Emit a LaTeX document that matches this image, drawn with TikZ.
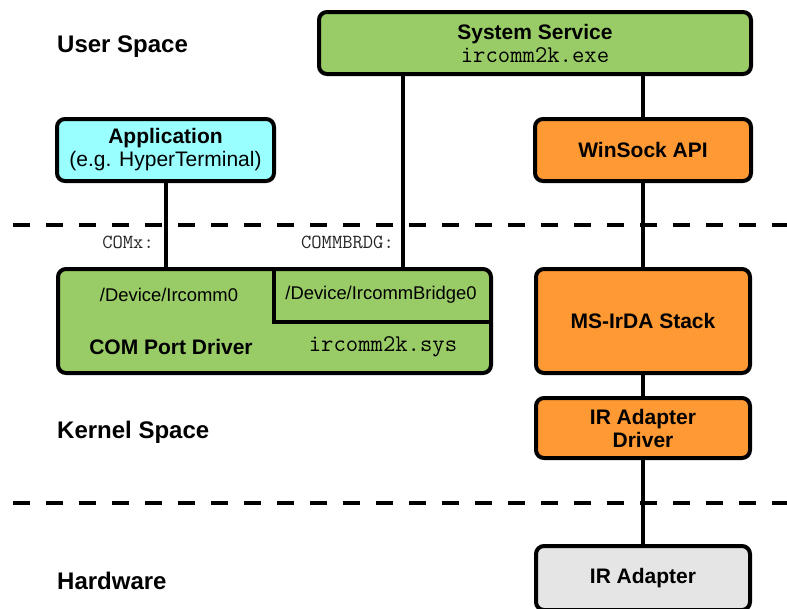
\documentclass[tikz,border=0pt]{standalone}
\usepackage{fontspec}
\setmainfont{Liberation Sans}
\definecolor{drvgreen}{HTML}{99CC66}
\definecolor{appcyan}{HTML}{99FFFF}
\definecolor{stackorange}{HTML}{FF9933}
\definecolor{hwgray}{HTML}{E5E5E5}
\definecolor{labelgray}{HTML}{262626}
\tikzset{
  block/.style={draw=black, line width=4pt, rounded corners=8pt, inner sep=0pt,
    align=center, font=\fontsize{21}{23}\selectfont\bfseries},
  layerlabel/.style={anchor=west, inner sep=0pt, font=\fontsize{24}{26}\selectfont\bfseries},
  wire/.style={line width=4pt},
  boundary/.style={line width=4pt, dash pattern=on 17pt off 16pt},
  devname/.style={inner sep=0pt, font=\fontsize{18.4}{20}\selectfont},
  portname/.style={anchor=east, inner sep=0pt, text=labelgray, font=\fontsize{20}{22}\ttfamily},
}
\begin{document}
\begin{tikzpicture}[x=1pt, y=-1pt]
  \useasboundingbox (0,0) rectangle (787,608);
  \clip (0,0) rectangle (787,608);

  % layer boundaries
  \draw[boundary] (13,225) coordinate (b1l) -- (787,225) coordinate (b1r);
  \draw[boundary] (13,503) coordinate (b2l) -- (787,503) coordinate (b2r);

  % layer names
  \node[layerlabel] (user) at (57,46.5) {User Space};
  \node[layerlabel] (kernel) at (57,432) {Kernel Space};
  \node[layerlabel] (hw) at (57,580.5) {Hardware};

  % user-mode components
  \node[block, fill=drvgreen, minimum width=432pt, minimum height=62pt] (svc) at (535,43)
    {System Service\\{\mdseries\fontsize{24}{24}\ttfamily ircomm2k.exe}};
  \node[block, fill=appcyan, minimum width=217pt, minimum height=62pt] (app) at (165.5,150)
    {Application\\{\mdseries (e.g. HyperTerminal)}};
  \node[block, fill=stackorange, minimum width=216pt, minimum height=62pt] (winsock) at (643,150)
    {WinSock API};

  % kernel-mode components
  \node[block, fill=drvgreen, minimum width=433pt, minimum height=104pt] (comdrv) at (274.5,321) {};
  \node[block, fill=stackorange, minimum width=214pt, minimum height=104pt] (irda) at (643,321)
    {MS-IrDA Stack};
  \node[block, fill=stackorange, minimum width=214pt, minimum height=60pt] (irdrv) at (643,428)
    {IR Adapter\\Driver};

  % hardware
  \node[block, fill=hwgray, minimum width=214pt, minimum height=64pt] (iradp) at (643,578)
    {IR Adapter};

  % subdivision of the COM port driver
  \coordinate (split) at (274,267);
  \draw[line width=3.5pt] (split) -- (274,322) coordinate (corner) -- (corner -| comdrv.east);

  \node[devname] (dev0) at (169,295) {/Device/Ircomm0};
  \node[devname] (devbr) at (381,295) {/Device/IrcommBridge0};
  \node[inner sep=0pt, font=\fontsize{21}{23}\selectfont\bfseries] (comname) at (171,347) {COM Port Driver};
  \node[inner sep=0pt, font=\fontsize{24}{24}\ttfamily] (sysfile) at (383,347) {ircomm2k.sys};

  % connectors
  \coordinate (svctap) at (403,76);
  \coordinate (apptap) at (166,183);
  \draw[wire] (apptap) -- (apptap |- comdrv.north);
  \draw[wire] (svctap) -- (svctap |- comdrv.north);
  \draw[wire] (winsock.north |- svc.south) -- (winsock.north);
  \draw[wire] (winsock.south) -- (irda.north);
  \draw[wire] (irda.south) -- (irdrv.north);
  \draw[wire] (irdrv.south) -- (iradp.north);

  % device link names
  \node[portname] (comx) at (154,242) {COMx:};
  \node[portname] (commbrdg) at (394,242) {COMMBRDG:};
\end{tikzpicture}
\end{document}
